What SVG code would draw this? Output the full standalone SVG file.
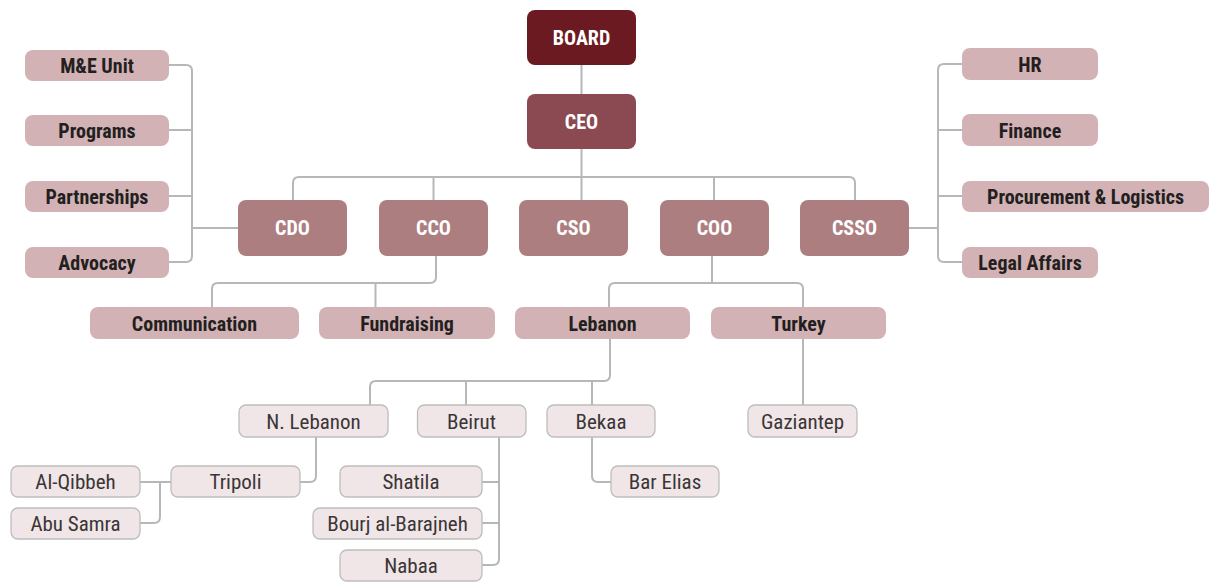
<svg xmlns="http://www.w3.org/2000/svg" width="1214" height="583" viewBox="0 0 1214 583">
<style>
text{font-family:"Liberation Sans Narrow","Roboto Condensed","DejaVu Sans Condensed","Liberation Sans",sans-serif;text-anchor:middle;font-stretch:condensed}
.b{font-weight:bold;font-size:20px;fill:#231F20}
.w{font-weight:bold;font-size:20px;fill:#FFFFFF}
.r{font-size:21px;fill:#3A3536}
.board{fill:#6B1A21}
.ceo{fill:#8B4A52}
.c{fill:#AD7E80}
.s{fill:#D2B2B5}
.l{fill:#F0E6E7;stroke:#BDBDBD;stroke-width:1.3}
.cn{fill:none;stroke:#B5B8BB;stroke-width:2}
</style>
<g id="connectors">
<path class="cn" d="M581.5 65V94"/>
<path class="cn" d="M581.5 149V200"/>
<path class="cn" d="M293 200V183Q293 177 299 177H849Q855 177 855 183V200"/>
<path class="cn" d="M433.5 177V200"/>
<path class="cn" d="M714 177V200"/>
<path class="cn" d="M169 65H186Q192 65 192 71V256Q192 262 186 262H169"/>
<path class="cn" d="M169 130H192M169 196H192M192 228H238"/>
<path class="cn" d="M962 64H944Q938 64 938 70V256Q938 262 944 262H962"/>
<path class="cn" d="M962 130H938M962 196H938M909 228H938"/>
<path class="cn" d="M436 256V277Q436 283 430 283H218Q212 283 212 289V307"/>
<path class="cn" d="M375.5 283V307"/>
<path class="cn" d="M712 256V283M609 307V289Q609 283 615 283H797Q803 283 803 289V307"/>
<path class="cn" d="M803 339V405"/>
<path class="cn" d="M610 339V375Q610 381 604 381H376Q370 381 370 387V405"/>
<path class="cn" d="M466 381V405M592 381V405"/>
<path class="cn" d="M316 437V476Q316 482 310 482H300"/>
<path class="cn" d="M140 482H171M160 482V517Q160 523 154 523H140"/>
<path class="cn" d="M499 437V559Q499 565 493 565H482M482 482H499M482 523H499"/>
<path class="cn" d="M592 437V476Q592 482 598 482H611"/>
</g>
<g id="board"><rect class="board" x="527" y="10" width="109" height="55" rx="8"/><text class="w" x="581.5" y="44.5">BOARD</text></g>
<g id="ceo"><rect class="ceo" x="527" y="94" width="109" height="55" rx="8"/><text class="w" x="581.5" y="128.5">CEO</text></g>
<g id="cdo"><rect class="c" x="238" y="200" width="109" height="56" rx="8"/><text class="w" x="292.5" y="235">CDO</text></g>
<g id="cco"><rect class="c" x="379" y="200" width="109" height="56" rx="8"/><text class="w" x="433.5" y="235">CCO</text></g>
<g id="cso"><rect class="c" x="519" y="200" width="109" height="56" rx="8"/><text class="w" x="573.5" y="235">CSO</text></g>
<g id="coo"><rect class="c" x="660" y="200" width="109" height="56" rx="8"/><text class="w" x="714.5" y="235">COO</text></g>
<g id="csso"><rect class="c" x="800" y="200" width="109" height="56" rx="8"/><text class="w" x="854.5" y="235">CSSO</text></g>
<g id="me"><rect class="s" x="25" y="50" width="144" height="31" rx="8"/><text class="b" x="97" y="73">M&amp;E Unit</text></g>
<g id="programs"><rect class="s" x="25" y="115" width="144" height="31" rx="8"/><text class="b" x="97" y="138">Programs</text></g>
<g id="partnerships"><rect class="s" x="25" y="181" width="144" height="31" rx="8"/><text class="b" x="97" y="204">Partnerships</text></g>
<g id="advocacy"><rect class="s" x="25" y="247" width="144" height="31" rx="8"/><text class="b" x="97" y="270">Advocacy</text></g>
<g id="hr"><rect class="s" x="962" y="48" width="136" height="32" rx="8"/><text class="b" x="1030" y="71.5">HR</text></g>
<g id="finance"><rect class="s" x="962" y="114" width="136" height="32" rx="8"/><text class="b" x="1030" y="137.5">Finance</text></g>
<g id="procurement"><rect class="s" x="962" y="181" width="247" height="31" rx="8"/><text class="b" x="1085.5" y="204">Procurement &amp; Logistics</text></g>
<g id="legal"><rect class="s" x="962" y="247" width="136" height="31" rx="8"/><text class="b" x="1030" y="270">Legal Affairs</text></g>
<g id="communication"><rect class="s" x="90" y="307" width="209" height="32" rx="8"/><text class="b" x="194.5" y="330.5">Communication</text></g>
<g id="fundraising"><rect class="s" x="319" y="307" width="176" height="32" rx="8"/><text class="b" x="407" y="330.5">Fundraising</text></g>
<g id="lebanon"><rect class="s" x="515" y="307" width="175" height="32" rx="8"/><text class="b" x="602.5" y="330.5">Lebanon</text></g>
<g id="turkey"><rect class="s" x="711" y="307" width="175" height="32" rx="8"/><text class="b" x="798.5" y="330.5">Turkey</text></g>
<g id="nlebanon"><rect class="l" x="239" y="405" width="149" height="32" rx="7"/><text class="r" x="313.5" y="428.5">N. Lebanon</text></g>
<g id="beirut"><rect class="l" x="417.5" y="405" width="108.5" height="32" rx="7"/><text class="r" x="471.5" y="428.5">Beirut</text></g>
<g id="bekaa"><rect class="l" x="547" y="405" width="108" height="32" rx="7"/><text class="r" x="601" y="428.5">Bekaa</text></g>
<g id="gaziantep"><rect class="l" x="748" y="405" width="109" height="32" rx="7"/><text class="r" x="802.5" y="428.5">Gaziantep</text></g>
<g id="tripoli"><rect class="l" x="171" y="466" width="129" height="31" rx="7"/><text class="r" x="235.5" y="489">Tripoli</text></g>
<g id="alqibbeh"><rect class="l" x="11" y="466" width="129" height="31" rx="7"/><text class="r" x="75.5" y="489">Al-Qibbeh</text></g>
<g id="abusamra"><rect class="l" x="11" y="508" width="129" height="31" rx="7"/><text class="r" x="75.5" y="531">Abu Samra</text></g>
<g id="shatila"><rect class="l" x="340" y="466" width="142" height="31" rx="7"/><text class="r" x="411" y="489">Shatila</text></g>
<g id="bourj"><rect class="l" x="313" y="508" width="169" height="31" rx="7"/><text class="r" x="397.5" y="531">Bourj al-Barajneh</text></g>
<g id="nabaa"><rect class="l" x="340" y="550" width="142" height="31" rx="7"/><text class="r" x="411" y="573">Nabaa</text></g>
<g id="barelias"><rect class="l" x="611" y="466" width="108" height="31" rx="7"/><text class="r" x="665" y="489">Bar Elias</text></g>
</svg>
